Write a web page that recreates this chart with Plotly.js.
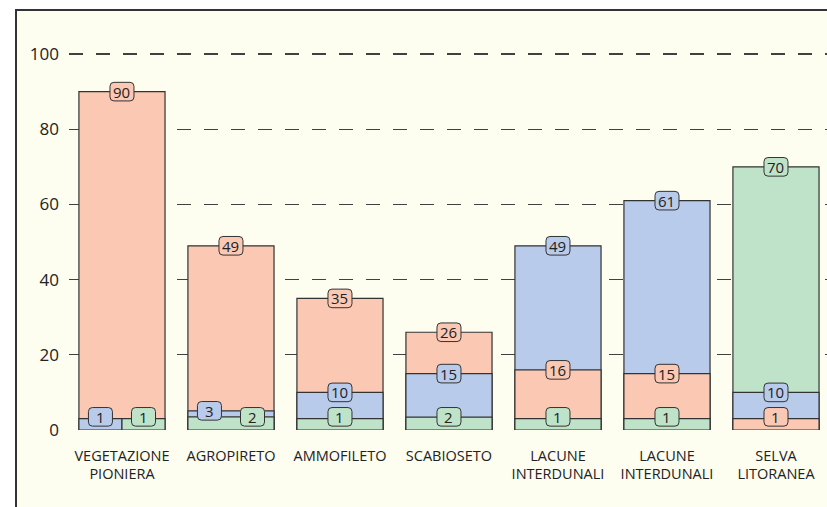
<!DOCTYPE html>
<html>
<head>
<meta charset="utf-8">
<script src="https://cdn.plot.ly/plotly-3.0.1.min.js"></script>
<style>
  html, body { margin: 0; padding: 0; background: #ffffff; overflow: hidden; width: 827px; height: 507px; }
  #frame { position: absolute; left: 15px; top: 9px; border-left: 2px solid #333; border-top: 2px solid #333; background: #fdfdf0; width: 810px; height: 496px; overflow: hidden; }
  #plot { width: 810px; height: 496px; }
</style>
</head>
<body>
<div id="frame"><div id="plot"></div></div>
<script>
// Categories (tick labels)
const categories = ['VEGETAZIONE<br>PIONIERA', 'AGROPIRETO', 'AMMOFILETO', 'SCABIOSETO',
                    'LACUNE<br>INTERDUNALI', 'LACUNE<br>INTERDUNALI', 'SELVA<br>LITORANEA'];
// Drawn bar heights
const orangeHeights = [90, 49, 35, 26, 16, 15, 3];
const blueHeights   = [3, 5.1, 10, 15, 49, 61, 10];
const greenHeights  = [3, 3.5, 3, 3.4, 3, 3, 70];
// Printed labels
const orangeLabels = [90, 49, 35, 26, 16, 15, 1];
const blueLabels   = [1, 3, 10, 15, 49, 61, 10];
const greenLabels  = [1, 2, 1, 2, 1, 1, 70];
const yTicks = [0, 20, 40, 60, 80, 100];

const ORANGE = '#fbc8b3', BLUE = '#b9cbea', GREEN = '#bfe3c9';
const FONT = 'Open Sans, sans-serif';
const series = [
  {h: orangeHeights, lab: orangeLabels, color: ORANGE},
  {h: blueHeights,   lab: blueLabels,   color: BLUE},
  {h: greenHeights,  lab: greenLabels,  color: GREEN}
];

const BW = 0.79;
const n = categories.length;
const xs = categories.map((_, i) => i);

// ranked traces: largest drawn first (behind)
const rankY = [[], [], []], rankC = [[], [], []], rankW = [[], [], []], rankO = [[], [], []];
const labelX = [[], [], []], labelY = [[], [], []];
for (let i = 0; i < n; i++) {
  const order = [0, 1, 2].sort((a, b) => series[b].h[i] - series[a].h[i]);
  const split = {};
  for (let a = 0; a < 3; a++) for (let b = a + 1; b < 3; b++) {
    if (series[a].h[i] === series[b].h[i]) { split[a] = 'L'; split[b] = 'R'; }
  }
  order.forEach((s, r) => {
    rankY[r].push(series[s].h[i]);
    rankC[r].push(series[s].color);
    if (split[s] === 'L') { rankW[r].push(BW / 2); rankO[r].push(-BW / 2); }
    else if (split[s] === 'R') { rankW[r].push(BW / 2); rankO[r].push(0); }
    else { rankW[r].push(BW); rankO[r].push(-BW / 2); }
  });
  const ly = [0, 1, 2].map(s => Math.max(series[s].h[i], 3.5));
  const lx = [i, i, i];
  for (let a = 0; a < 3; a++) for (let b = a + 1; b < 3; b++) {
    if (split[a] && split[b] || Math.abs(ly[a] - ly[b]) < 5) {
      lx[a] = i - BW / 4; lx[b] = i + BW / 4;
    }
  }
  for (let s = 0; s < 3; s++) { labelX[s].push(lx[s]); labelY[s].push(ly[s]); }
}

const traces = [0, 1, 2].map(r => ({
  type: 'bar', x: xs, y: rankY[r], width: rankW[r], offset: rankO[r],
  marker: {color: rankC[r], line: {color: '#333333', width: 1.2}},
  hoverinfo: 'skip', showlegend: false
}));

const hw = 12, hh = 9.3, rc = 4;
const boxPath = `M ${-hw + rc},${-hh} L ${hw - rc},${-hh} Q ${hw},${-hh} ${hw},${-hh + rc} L ${hw},${hh - rc} Q ${hw},${hh} ${hw - rc},${hh} L ${-hw + rc},${hh} Q ${-hw},${hh} ${-hw},${hh - rc} L ${-hw},${-hh + rc} Q ${-hw},${-hh} ${-hw + rc},${-hh} Z`;

const shapes = [], annotations = [];
for (let s = 0; s < 3; s++) {
  for (let i = 0; i < n; i++) {
    shapes.push({
      type: 'path', xref: 'x', yref: 'y', xsizemode: 'pixel', ysizemode: 'pixel',
      xanchor: labelX[s][i], yanchor: labelY[s][i], path: boxPath,
      fillcolor: series[s].color, line: {color: '#333333', width: 1}, layer: 'above'
    });
    annotations.push({
      x: labelX[s][i], y: labelY[s][i], xref: 'x', yref: 'y', text: String(series[s].lab[i]),
      showarrow: false, xanchor: 'center', yanchor: 'middle',
      font: {family: FONT, size: 15, color: '#222222'}
    });
  }
}

const layout = {
  width: 810, height: 496,
  margin: {l: 52, r: 0, t: 28, b: 77},
  paper_bgcolor: '#fdfdf0', plot_bgcolor: '#fdfdf0',
  barmode: 'overlay',
  font: {family: FONT, color: '#222222'},
  xaxis: {
    range: [-0.486, 6.468], tickmode: 'array', tickvals: xs, ticktext: categories,
    showgrid: false, zeroline: false, showline: false, ticks: '',
    tickfont: {family: FONT, size: 14.5, color: '#222222'}, ticklabelstandoff: 15, fixedrange: true
  },
  yaxis: {
    range: [0, 104], tickmode: 'array', tickvals: yTicks,
    showgrid: true, gridcolor: '#404040', gridwidth: 1.3, griddash: '14px,13px',
    zeroline: false, showline: false, ticks: '',
    tickfont: {family: FONT, size: 17, color: '#222222'}, ticklabelstandoff: 9, fixedrange: true
  },
  shapes: shapes, annotations: annotations
};

Plotly.newPlot('plot', traces, layout, {displayModeBar: false, staticPlot: true});
</script>
</body>
</html>
